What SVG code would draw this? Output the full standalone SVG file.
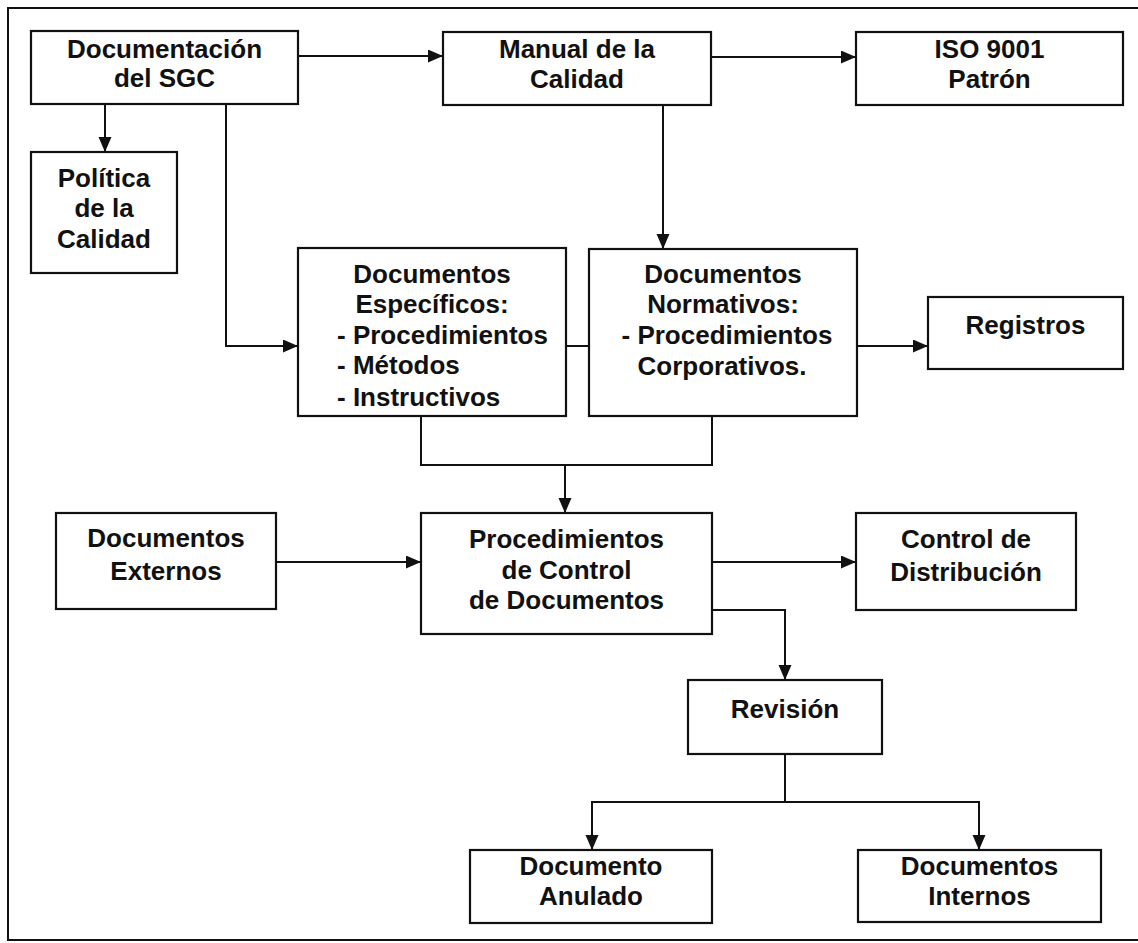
<svg xmlns="http://www.w3.org/2000/svg" width="1138" height="943" viewBox="0 0 1138 943">
  <style>
    .box { fill: #fff; stroke: #111; stroke-width: 2.2; }
    .lbl { font-family: "Liberation Sans", Arial, sans-serif; font-weight: bold; font-size: 26px; fill: #111; text-anchor: middle; }
    .lft { text-anchor: start; }
    .wire { fill: none; stroke: #111; stroke-width: 2; }
    .arr { marker-end: url(#head); }
  </style>
  <defs>
    <marker id="head" markerUnits="userSpaceOnUse" markerWidth="16" markerHeight="14" refX="15" refY="6.5" orient="auto">
      <path d="M0,0 L15,6.5 L0,13 z" fill="#111"/>
    </marker>
  </defs>

  <rect width="1138" height="943" fill="#fff"/>
  <!-- frame (open to the right edge) -->
  <rect x="8" y="8" width="1140" height="932" fill="none" stroke="#111" stroke-width="2"/>

  <g id="connectors">
    <path class="wire arr" d="M298,56 H443"/>
    <path class="wire arr" d="M711,57 H856"/>
    <path class="wire arr" d="M105,104 V152"/>
    <path class="wire arr" d="M226,104 V346 H298"/>
    <path class="wire arr" d="M663,105 V249"/>
    <path class="wire" d="M566,346 H589"/>
    <path class="wire arr" d="M857,346 H928"/>
    <path class="wire" d="M421,416 V465 H712 V416"/>
    <path class="wire arr" d="M565,465 V513"/>
    <path class="wire arr" d="M276,562 H421"/>
    <path class="wire arr" d="M712,562 H856"/>
    <path class="wire arr" d="M712,610 H785 V680"/>
    <path class="wire" d="M785,754 V802"/>
    <path class="wire arr" d="M785,802 H592 V850"/>
    <path class="wire arr" d="M785,802 H979 V850"/>
  </g>

  <g id="doc-sgc">
    <rect class="box" x="31" y="31" width="267" height="73"/>
    <text class="lbl" x="164.5" y="58">Documentación</text>
    <text class="lbl" x="164.5" y="87">del SGC</text>
  </g>

  <g id="manual-calidad">
    <rect class="box" x="443" y="32" width="268" height="73"/>
    <text class="lbl" x="577" y="58">Manual de la</text>
    <text class="lbl" x="577" y="88">Calidad</text>
  </g>

  <g id="iso-9001">
    <rect class="box" x="856" y="32" width="267" height="73"/>
    <text class="lbl" x="989.5" y="58">ISO 9001</text>
    <text class="lbl" x="989.5" y="88">Patrón</text>
  </g>

  <g id="politica-calidad">
    <rect class="box" x="31" y="152" width="146" height="121"/>
    <text class="lbl" x="104" y="187">Política</text>
    <text class="lbl" x="104" y="217">de la</text>
    <text class="lbl" x="104" y="248">Calidad</text>
  </g>

  <g id="doc-especificos">
    <rect class="box" x="298" y="248" width="268" height="168"/>
    <text class="lbl" x="432" y="283">Documentos</text>
    <text class="lbl" x="432" y="313">Específicos:</text>
    <text class="lbl lft" x="337" y="344">- Procedimientos</text>
    <text class="lbl lft" x="337" y="374">- Métodos</text>
    <text class="lbl lft" x="337" y="406">- Instructivos</text>
  </g>

  <g id="doc-normativos">
    <rect class="box" x="589" y="249" width="268" height="167"/>
    <text class="lbl" x="723" y="283">Documentos</text>
    <text class="lbl" x="723" y="313">Normativos:</text>
    <text class="lbl" x="727" y="344">- Procedimientos</text>
    <text class="lbl" x="722" y="375">Corporativos.</text>
  </g>

  <g id="registros">
    <rect class="box" x="928" y="297" width="195" height="72"/>
    <text class="lbl" x="1025.5" y="334">Registros</text>
  </g>

  <g id="doc-externos">
    <rect class="box" x="56" y="513" width="220" height="96"/>
    <text class="lbl" x="166" y="547">Documentos</text>
    <text class="lbl" x="166" y="580">Externos</text>
  </g>

  <g id="proc-control">
    <rect class="box" x="421" y="513" width="291" height="121"/>
    <text class="lbl" x="566.5" y="548">Procedimientos</text>
    <text class="lbl" x="566.5" y="579">de Control</text>
    <text class="lbl" x="566.5" y="609">de Documentos</text>
  </g>

  <g id="control-distribucion">
    <rect class="box" x="856" y="513" width="220" height="97"/>
    <text class="lbl" x="966" y="548">Control de</text>
    <text class="lbl" x="966" y="581">Distribución</text>
  </g>

  <g id="revision">
    <rect class="box" x="688" y="680" width="194" height="74"/>
    <text class="lbl" x="785" y="718">Revisión</text>
  </g>

  <g id="doc-anulado">
    <rect class="box" x="470" y="850" width="242" height="73"/>
    <text class="lbl" x="591" y="875">Documento</text>
    <text class="lbl" x="591" y="905">Anulado</text>
  </g>

  <g id="doc-internos">
    <rect class="box" x="858" y="850" width="243" height="72"/>
    <text class="lbl" x="979.5" y="875">Documentos</text>
    <text class="lbl" x="979.5" y="905">Internos</text>
  </g>
</svg>
